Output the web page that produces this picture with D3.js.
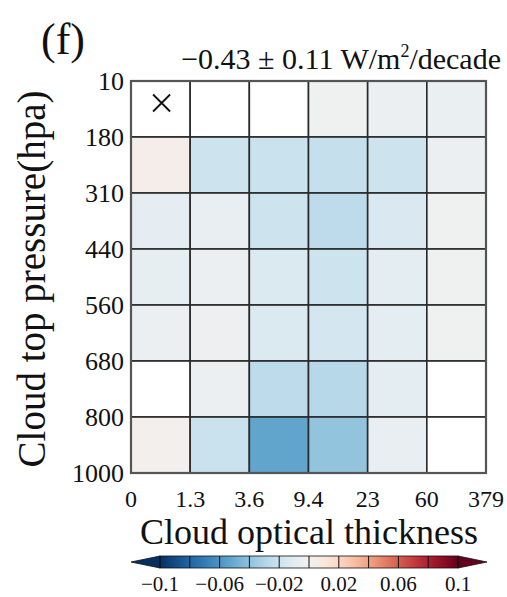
<!DOCTYPE html>
<html>
<head>
<meta charset="utf-8">
<script src="https://cdn.jsdelivr.net/npm/d3@7"></script>
<style>
  body { margin: 0; background: #fff; }
  text { font-family: "Liberation Serif", "Times New Roman", "DejaVu Serif", serif; fill: #111; }
</style>
</head>
<body>
<svg id="chart" width="507" height="597"></svg>
<script>
// bin edges
const tauEdges = ["0", "1.3", "3.6", "9.4", "23", "60", "379"];
const ctpEdges = ["10", "180", "310", "440", "560", "680", "800", "1000"];

// trend per cell, rows from 10-180 hPa down to 800-1000 hPa (null = blank)
const row10   = [null, null, null, -0.002, -0.005, -0.006];
const row180  = [0.004, -0.020, -0.021, -0.023, -0.020, -0.005];
const row310  = [-0.009, -0.007, -0.020, -0.026, -0.015, -0.002];
const row440  = [-0.008, -0.005, -0.014, -0.020, -0.010, -0.002];
const row560  = [-0.005, -0.004, -0.014, -0.017, -0.010, -0.002];
const row680  = [null, -0.005, -0.026, -0.028, -0.010, null];
const row800  = [0.0008, -0.021, -0.053, -0.039, -0.007, null];
const rows = [row10, row180, row310, row440, row560, row680, row800];

// cells marked with a cross: [col, row]
const crossCells = [[0, 0]];

const cbarTicks = [-0.1, -0.06, -0.02, 0.02, 0.06, 0.1];
const cbarSteps = [-0.1, -0.08, -0.06, -0.04, -0.02, 0, 0.02, 0.04, 0.06, 0.08, 0.1];

const title = "(f)";
const subtitle = "\u22120.43 \u00b1 0.11 W/m";

const svg = d3.select("#chart");

const x = d3.scaleLinear().domain([0, tauEdges.length - 1]).range([131, 486]);
const y = d3.scaleLinear().domain([0, ctpEdges.length - 1]).range([81, 473]);
const color = v => d3.interpolateRdBu((0.1 - v) / 0.2);

// cells
const cells = [];
rows.forEach((r, j) => r.forEach((v, i) => cells.push({ i, j, v })));

svg.append("g")
    .selectAll("rect")
    .data(cells)
    .join("rect")
    .attr("x", d => x(d.i))
    .attr("y", d => y(d.j))
    .attr("width", x(1) - x(0))
    .attr("height", y(1) - y(0))
    .attr("fill", d => d.v === null ? "#fff" : color(d.v))
    .attr("stroke", "#2a2a2a")
    .attr("stroke-width", 1.6);

// frame
svg.append("rect")
    .attr("x", x(0)).attr("y", y(0))
    .attr("width", x(6) - x(0)).attr("height", y(7) - y(0))
    .attr("fill", "none")
    .attr("stroke", "#555")
    .attr("stroke-width", 2.2);

// crosses
const cs = 8.5;
crossCells.forEach(([ci, rj]) => {
    const cx = (x(ci) + x(ci + 1)) / 2 + 1, cy = (y(rj) + y(rj + 1)) / 2 - 6;
    svg.append("path")
        .attr("d", `M${cx - cs},${cy - cs}L${cx + cs},${cy + cs}M${cx - cs},${cy + cs}L${cx + cs},${cy - cs}`)
        .attr("stroke", "#111")
        .attr("stroke-width", 1.8);
});

// y ticks
svg.append("g")
    .selectAll("text")
    .data(ctpEdges)
    .join("text")
    .attr("x", 124)
    .attr("y", (d, i) => y(i))
    .attr("dy", "0.35em")
    .attr("text-anchor", "end")
    .style("font-size", "26px")
    .text(d => d);

// x ticks
svg.append("g")
    .selectAll("text")
    .data(tauEdges)
    .join("text")
    .attr("x", (d, i) => x(i))
    .attr("y", 507)
    .attr("text-anchor", "middle")
    .style("font-size", "24px")
    .text(d => d);

// axis titles
svg.append("text")
    .attr("x", 309).attr("y", 544)
    .attr("text-anchor", "middle")
    .style("font-size", "36px")
    .text("Cloud optical thickness");

svg.append("text")
    .attr("transform", "translate(45,279) rotate(-90)")
    .attr("text-anchor", "middle")
    .style("font-size", "39px")
    .text("Cloud top pressure(hpa)");

// panel letter and trend
svg.append("text")
    .attr("x", 41).attr("y", 54)
    .style("font-size", "44px")
    .text(title);

const sub = svg.append("text")
    .attr("x", 501).attr("y", 69)
    .attr("text-anchor", "end")
    .style("font-size", "30px");
sub.append("tspan").text(subtitle);
sub.append("tspan").attr("dy", -12).style("font-size", "18px").text("2");
sub.append("tspan").attr("dy", 12).text("/decade");

// colorbar
const cb = d3.scaleLinear().domain([-0.1, 0.1]).range([160, 458]);
const cbY = 556, cbH = 12;

const defs = svg.append("defs");
const grad = defs.append("linearGradient").attr("id", "cbgrad");
d3.range(0, 1.0001, 0.05).forEach(t => {
    grad.append("stop")
        .attr("offset", t)
        .attr("stop-color", d3.interpolateRdBu(1 - t));
});

svg.append("path")
    .attr("d", `M${cb(-0.1)},${cbY}L131,${cbY + cbH / 2}L${cb(-0.1)},${cbY + cbH}Z`)
    .attr("fill", d3.interpolateRdBu(1))
    .attr("stroke", "#111").attr("stroke-width", 0.8);
svg.append("path")
    .attr("d", `M${cb(0.1)},${cbY}L487,${cbY + cbH / 2}L${cb(0.1)},${cbY + cbH}Z`)
    .attr("fill", d3.interpolateRdBu(0))
    .attr("stroke", "#111").attr("stroke-width", 0.8);

svg.append("rect")
    .attr("x", cb(-0.1)).attr("y", cbY)
    .attr("width", cb(0.1) - cb(-0.1)).attr("height", cbH)
    .attr("fill", "url(#cbgrad)")
    .attr("stroke", "#111").attr("stroke-width", 0.8);

svg.append("g")
    .selectAll("line")
    .data(cbarSteps)
    .join("line")
    .attr("x1", d => cb(d)).attr("x2", d => cb(d))
    .attr("y1", cbY).attr("y2", cbY + cbH)
    .attr("stroke", "#111").attr("stroke-width", 1);

svg.append("g")
    .selectAll("text")
    .data(cbarTicks)
    .join("text")
    .attr("x", d => cb(d))
    .attr("y", 591)
    .attr("text-anchor", "middle")
    .style("font-size", "21px")
    .text(d => d3.format("")(d).replace("-", "\u2212"));
</script>
</body>
</html>
